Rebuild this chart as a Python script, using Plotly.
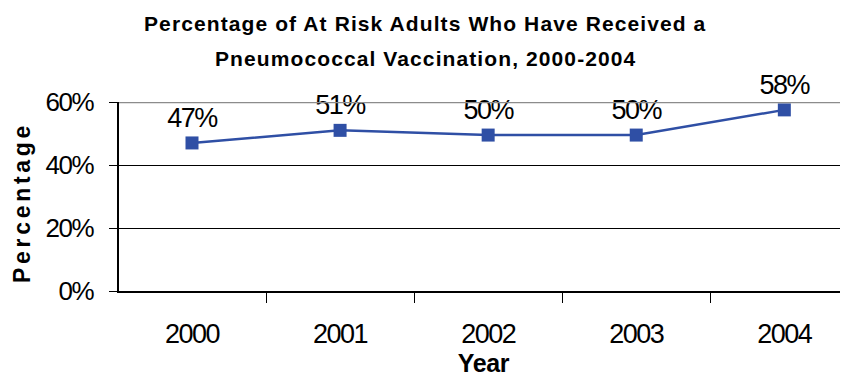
import plotly.graph_objects as go

years = ["2000", "2001", "2002", "2003", "2004"]
values = [0.47, 0.51, 0.495, 0.495, 0.575]
labels = ["47%", "51%", "50%", "50%", "58%"]
y_ticks = [0, 0.2, 0.4, 0.6]
y_tick_labels = ["0%", "20%", "40%", "60%"]
title_lines = ["Percentage of At Risk Adults Who Have Received a",
               "Pneumococcal Vaccination, 2000-2004"]
y_title = "Percentage"
x_title = "Year"
y_max = 0.6

SANS = "Liberation Sans, Arial, sans-serif"

W, H = 840, 370           # page body has an 8px margin
L, T, B, R = 111, 94, 87, 0
PW, PH = W - L - R, H - T - B

def px_x(x):  # figure pixel -> paper
    return (x - L) / PW

def px_y(y):
    return 1 - (y - T) / PH

def narrow(s, sp):
    return f"<span style='letter-spacing:{sp}px'>{s}</span>"

fig = go.Figure()
fig.add_trace(go.Scatter(
    x=years, y=values, mode="lines+markers+text",
    text=[narrow(s, -1.5) for s in labels], textposition="top center",
    textfont=dict(family=SANS, size=27, color="black"),
    line=dict(color="#2F4FA5", width=2.5),
    marker=dict(symbol="square", size=13, color="#2F4FA5"),
    cliponaxis=False, showlegend=False,
))

fig.update_layout(
    width=W, height=H,
    margin=dict(l=L, r=R, t=T, b=B),
    paper_bgcolor="white", plot_bgcolor="white",
    font=dict(family=SANS, color="black"),
    xaxis=dict(
        type="category", range=[-0.493, 4.43], automargin=False,
        showline=True, linecolor="black", linewidth=2,
        ticks="outside", ticklen=10, tickcolor="black", tickwidth=1,
        tickson="boundaries", showgrid=False,
        tickvals=years, ticktext=[narrow(s, -1.5) for s in years],
        tickfont=dict(size=27), ticklabelstandoff=18,
        title=dict(text=f"<b>{narrow(x_title, -0.3)}</b>", font=dict(size=25), standoff=0),
    ),
    yaxis=dict(
        range=[0, y_max], automargin=False,
        tickvals=y_ticks, ticktext=[narrow(s, -1.5) for s in y_tick_labels],
        showgrid=True, gridcolor="black", gridwidth=1,
        showline=True, linecolor="black", linewidth=1.5,
        ticks="outside", ticklen=8, tickcolor="black",
        tickfont=dict(size=26), ticklabelstandoff=11,
        zeroline=False,
    ),
)

fig.add_shape(type="line", xref="paper", yref="y", x0=0, x1=1, y0=y_max, y1=y_max,
              line=dict(color="#8C8C8C", width=2.5))

fig.add_annotation(text=f"<b>{narrow(y_title, 3.7)}</b>", textangle=-90,
                   xref="paper", yref="paper", x=px_x(14), y=px_y(195),
                   showarrow=False, font=dict(family=SANS, size=23, color="black"),
                   xanchor="center", yanchor="middle")

for i, t in enumerate(title_lines):
    fig.add_annotation(text=f"<b>{narrow(t, 1.1)}</b>",
                       xref="paper", yref="paper",
                       x=px_x(417), y=px_y(15 + 35 * i),
                       showarrow=False, font=dict(size=21, color="black"),
                       xanchor="center", yanchor="middle")

fig.write_html("out.html")
